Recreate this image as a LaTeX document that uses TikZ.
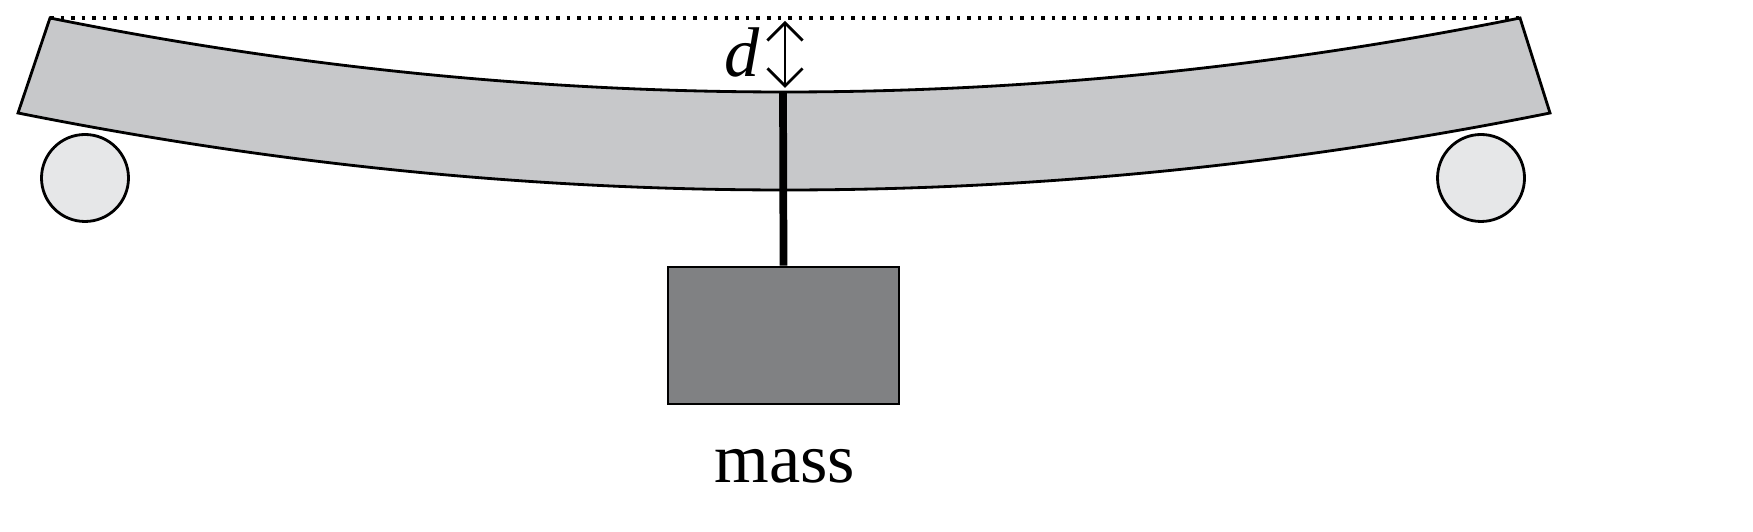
\documentclass[tikz,border=0pt]{standalone}
\usepackage{fontspec}
\setmainfont{Liberation Serif}
\usepackage{tikz}
\usetikzlibrary{arrows.meta}
\definecolor{beamgray}{HTML}{C7C8CA}
\definecolor{rollgray}{HTML}{E6E7E8}
\definecolor{massgray}{HTML}{808183}
\begin{document}
\begin{tikzpicture}[line width=0.8pt,
    roller/.style={draw,circle,fill=rollgray,minimum size=0.87cm,inner sep=0pt},
    weight/.style={draw,fill=massgray,minimum width=2.31cm,minimum height=1.37cm,inner sep=0pt}]
        \useasboundingbox (0,0) rectangle (17.53,5.32);
        \node[roller] (RollerL) at (0.85,3.54) {};
        \node[roller] (RollerR) at (14.81,3.54) {};

        \draw[fill=beamgray] (0.50,5.14) .. controls (2.95,4.647) and (5.40,4.40) .. (7.85,4.40)
            .. controls (10.30,4.40) and (12.75,4.647) .. (15.20,5.14)
            -- (15.50,4.19) .. controls (12.96,3.679) and (10.41,3.42) .. (7.85,3.42)
            .. controls (5.29,3.42) and (2.74,3.679) .. (0.18,4.19) -- cycle;

        \coordinate (EndL) at (0.50,5.14);
        \coordinate (EndR) at (15.20,5.14);
        \coordinate (Mid) at (7.83,4.40);
        \draw[dotted,line width=1pt] (EndL) -- (EndR);

        \node[weight] (Mass) at (7.835,1.965) {};
        \node[font=\fontsize{20}{23}\selectfont] (MassLabel) at (7.85,0.66) {mass};
        \draw[line width=2.2pt] (Mid) -- (Mass.north);

        \coordinate (ArrTop) at (7.85,5.11);
        \coordinate (ArrBot) at (7.85,4.44);
        \draw[{Straight Barb[length=5pt,width=10pt]}-{Straight Barb[length=5pt,width=10pt]}] (ArrTop) -- (ArrBot);
        \node[font=\fontsize{20}{23}\selectfont\itshape] (DLabel) at (7.42,4.80) {d};
\end{tikzpicture}
\end{document}
